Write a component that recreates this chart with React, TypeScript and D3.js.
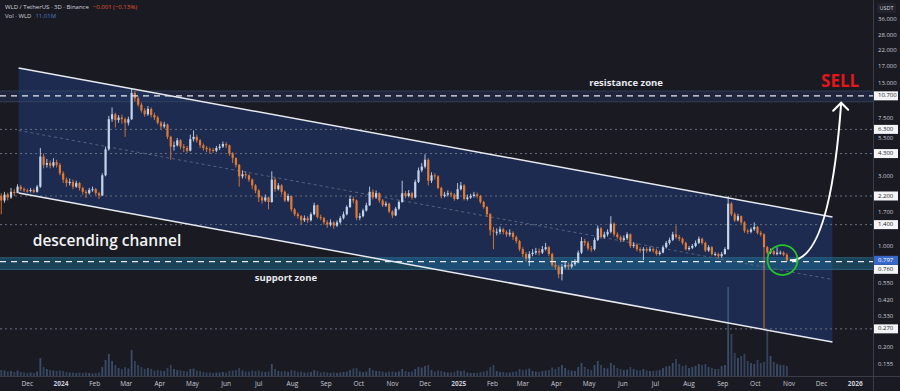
import React, { useEffect, useRef } from 'react';
import * as d3 from 'd3';

// WLD / TetherUS, 3D candles (Binance)
const firstCandle = '2023-11-07';
const intervalDays = 3;
const firstOpen = 2.2;

const closes = [
  2.05, 2.25, 2.15, 2.35, 2.30, 2.55, 2.45, 2.40, 2.38, 2.42,
  2.35, 2.55, 4.10, 3.60, 3.70, 3.55, 3.75, 3.60, 3.15, 2.85,
  2.70, 2.75, 2.55, 2.70, 2.50, 2.35, 2.30, 2.42, 2.45, 2.30,
  2.22, 3.05, 4.60, 7.40, 8.00, 7.30, 7.60, 7.40, 7.00, 7.40,
  11.20, 10.30, 9.30, 8.50, 8.00, 8.70, 7.90, 7.60, 7.00, 6.60,
  6.80, 5.60, 4.80, 4.90, 5.30, 4.80, 4.70, 4.50, 5.40, 5.60,
  5.30, 4.90, 4.70, 4.60, 4.55, 4.50, 4.70, 4.80, 5.00, 4.90,
  4.30, 4.00, 3.60, 3.00, 3.10, 3.05, 2.85, 2.60, 2.40, 2.15,
  2.05, 2.15, 2.00, 2.85, 2.45, 2.60, 2.35, 2.05, 2.20, 1.78,
  1.65, 1.60, 1.50, 1.55, 1.50, 1.65, 1.90, 1.58, 1.55, 1.45,
  1.40, 1.45, 1.38, 1.45, 1.55, 1.65, 1.85, 2.10, 2.05, 1.56,
  1.60, 1.75, 1.90, 2.35, 2.15, 2.30, 2.05, 1.90, 1.95, 1.72,
  1.62, 1.80, 2.00, 2.30, 2.20, 2.30, 2.15, 2.75, 3.30, 3.50,
  3.90, 2.80, 3.05, 3.00, 2.50, 2.20, 2.25, 2.30, 2.25, 2.10,
  2.45, 2.60, 2.10, 2.15, 2.20, 2.25, 2.20, 2.00, 1.85, 1.65,
  1.28, 1.25, 1.25, 1.30, 1.25, 1.20, 1.23, 1.15, 1.08, 0.95,
  0.88, 0.82, 0.88, 0.90, 0.92, 0.90, 0.95, 0.98, 0.88, 0.74,
  0.72, 0.64, 0.72, 0.74, 0.72, 0.75, 0.77, 0.90, 1.08, 1.05,
  0.96, 0.95, 1.10, 1.32, 1.15, 1.20, 1.25, 1.42, 1.20, 1.15,
  1.10, 1.13, 1.20, 1.00, 1.02, 0.95, 0.93, 0.95, 0.93, 0.95,
  0.93, 0.88, 0.90, 0.98, 1.05, 1.10, 1.20, 1.15, 1.12, 1.05,
  0.95, 0.97, 1.00, 1.05, 1.12, 1.05, 0.93, 0.98, 0.88, 0.88,
  0.85, 0.88, 0.95, 1.95, 1.65, 1.50, 1.60, 1.45, 1.27, 1.25,
  1.30, 1.35, 1.23, 1.20, 0.98, 0.90, 0.92, 0.88, 0.90, 0.90,
  0.87, 0.797,
];

const highs = [
  2.30, 2.35, 2.32, 2.50, 2.45, 2.65, 2.62, 2.52, 2.47, 2.50,
  2.48, 2.62, 4.70, 4.30, 3.95, 3.85, 4.00, 3.90, 3.70, 3.25,
  2.95, 2.90, 2.85, 2.80, 2.75, 2.55, 2.42, 2.50, 2.55, 2.50,
  2.35, 3.15, 4.80, 7.80, 8.90, 8.20, 7.90, 7.95, 7.60, 7.70,
  12.10, 11.60, 10.60, 9.60, 8.80, 9.10, 8.90, 8.20, 7.80, 7.20,
  7.10, 6.90, 5.70, 5.20, 5.50, 5.40, 5.00, 4.85, 5.80, 6.20,
  5.80, 5.40, 5.05, 4.85, 4.75, 4.70, 4.85, 5.00, 5.20, 5.15,
  4.95, 4.40, 4.05, 3.65, 3.30, 3.25, 3.10, 2.90, 2.65, 2.45,
  2.20, 2.25, 2.18, 3.25, 2.95, 2.70, 2.65, 2.40, 2.28, 2.22,
  1.82, 1.70, 1.63, 1.62, 1.60, 1.70, 1.98, 1.92, 1.64, 1.58,
  1.50, 1.52, 1.48, 1.50, 1.60, 1.72, 1.90, 2.22, 2.18, 2.08,
  1.68, 1.80, 1.98, 2.55, 2.45, 2.40, 2.33, 2.10, 2.02, 1.98,
  1.76, 1.85, 2.05, 2.80, 2.38, 2.42, 2.35, 2.85, 3.45, 3.70,
  4.25, 4.00, 3.20, 3.15, 3.05, 2.55, 2.35, 2.40, 2.36, 2.30,
  2.70, 2.75, 2.65, 2.25, 2.28, 2.35, 2.32, 2.24, 2.04, 1.88,
  1.68, 1.35, 1.32, 1.36, 1.33, 1.28, 1.30, 1.26, 1.18, 1.10,
  0.98, 0.91, 0.92, 0.95, 0.97, 0.96, 1.00, 1.05, 1.00, 0.90,
  0.78, 0.74, 0.75, 0.78, 0.77, 0.79, 0.81, 0.93, 1.15, 1.12,
  1.08, 1.00, 1.14, 1.38, 1.35, 1.25, 1.30, 1.60, 1.45, 1.24,
  1.18, 1.18, 1.24, 1.22, 1.06, 1.04, 0.98, 0.98, 0.98, 0.99,
  0.98, 0.96, 0.93, 1.01, 1.08, 1.14, 1.25, 1.38, 1.19, 1.14,
  1.07, 1.00, 1.03, 1.09, 1.16, 1.14, 1.07, 1.01, 1.00, 0.91,
  0.90, 0.91, 0.98, 2.20, 2.00, 1.70, 1.66, 1.62, 1.48, 1.31,
  1.34, 1.45, 1.37, 1.27, 1.22, 1.00, 0.96, 0.94, 0.98, 0.93,
  0.92, 0.89,
];

const lows = [
  1.65, 1.98, 2.05, 2.10, 2.20, 2.33, 2.38, 2.34, 2.32, 2.33,
  2.30, 2.32, 2.50, 3.40, 3.45, 3.40, 3.45, 3.45, 3.05, 2.70,
  2.55, 2.60, 2.45, 2.50, 2.40, 2.25, 2.13, 2.25, 2.35, 2.22,
  2.10, 2.20, 3.00, 4.50, 7.10, 6.50, 7.00, 6.90, 5.60, 6.70,
  7.30, 9.80, 9.00, 8.20, 7.70, 7.80, 7.60, 7.30, 6.80, 6.30,
  6.40, 5.40, 3.90, 4.50, 4.80, 4.60, 4.40, 4.35, 4.45, 5.20,
  5.10, 4.70, 4.50, 4.40, 4.30, 4.35, 4.40, 4.55, 4.70, 4.70,
  4.15, 3.70, 3.45, 2.55, 2.90, 2.90, 2.75, 2.45, 2.30, 2.00,
  1.95, 2.00, 1.78, 1.98, 2.35, 2.40, 2.25, 2.00, 2.00, 1.72,
  1.60, 1.54, 1.40, 1.46, 1.44, 1.47, 1.62, 1.54, 1.50, 1.40,
  1.33, 1.36, 1.31, 1.35, 1.42, 1.52, 1.62, 1.82, 1.96, 1.50,
  1.50, 1.57, 1.72, 1.88, 2.08, 2.10, 1.98, 1.85, 1.85, 1.68,
  1.55, 1.60, 1.76, 1.98, 2.12, 2.15, 2.08, 2.12, 2.70, 3.20,
  3.40, 2.60, 2.70, 2.85, 2.45, 2.12, 2.15, 2.18, 2.16, 2.04,
  2.08, 2.40, 2.05, 2.05, 2.10, 2.15, 2.12, 1.95, 1.80, 1.58,
  1.18, 0.95, 1.18, 1.20, 1.20, 1.15, 1.16, 1.10, 1.04, 0.92,
  0.84, 0.78, 0.73, 0.85, 0.87, 0.86, 0.88, 0.93, 0.85, 0.72,
  0.69, 0.60, 0.58, 0.70, 0.69, 0.70, 0.73, 0.76, 0.88, 1.00,
  0.93, 0.91, 0.93, 1.08, 1.12, 1.12, 1.16, 1.22, 1.16, 1.12,
  1.06, 1.07, 1.10, 0.97, 0.97, 0.92, 0.90, 0.80, 0.90, 0.91,
  0.90, 0.86, 0.86, 0.89, 0.96, 1.02, 1.08, 1.12, 1.08, 1.02,
  0.93, 0.93, 0.95, 0.98, 1.03, 1.02, 0.91, 0.91, 0.86, 0.85,
  0.82, 0.83, 0.87, 0.94, 1.60, 1.46, 1.47, 1.41, 1.23, 1.21,
  1.22, 1.27, 1.20, 1.16, 0.27, 0.87, 0.88, 0.86, 0.86, 0.87,
  0.85, 0.79,
];

// volume, millions of WLD
const volumes = [
  60, 55, 45, 50, 40, 55, 40, 35, 30, 35, 30, 45,
  180, 90, 70, 60, 55, 50,
  55, 50, 40, 35, 35, 30, 35, 30, 35, 30, 25, 30, 35,
  90, 160, 220, 150, 110, 80, 70, 90, 75, 260,
  150, 110, 90, 70, 80, 70, 55, 60, 55, 50, 80, 110,
  70, 60, 55, 50, 45, 70, 75, 55, 50, 40, 35, 35, 30,
  35, 35, 40, 35, 50, 55, 60, 80, 55, 45, 45, 55, 50, 55, 45, 40, 45,
  120, 70, 50, 45, 50, 40, 60, 55, 40, 45, 35, 35, 40, 60, 50, 35, 40, 35,
  30, 35, 30, 35, 40, 45, 60, 75, 80, 45, 40, 45, 80, 60, 50, 50, 45, 35, 45, 45, 40, 45, 70, 50, 40, 45,
  70, 90, 85, 100, 110, 60, 45, 55, 50, 40, 35, 35, 40, 55, 50, 55, 35, 30, 30, 30,
  40, 45, 55, 90, 110, 50, 40, 40, 35, 35, 40, 45, 70, 60, 65, 75, 50, 45, 40, 50, 55, 60, 85, 70, 90, 110, 80, 60, 55, 50,
  90, 130, 90, 70, 60, 110, 150, 110, 80, 75, 130, 110, 80, 70, 60, 65, 90, 70, 60, 55, 70, 55, 50, 50,
  55, 60, 80, 95, 100, 130, 170, 120, 100, 110, 80, 90, 100, 120, 110, 120, 90, 80, 70, 70, 100, 110,
  890, 420, 230, 180, 200, 220, 150, 130, 120, 160, 130, 140, 450, 200, 140, 120, 110, 110, 100,
];

const priceTicks = [36, 28, 22, 17, 13, 7.5, 5.5, 3, 1.7, 1, 0.55, 0.42, 0.33, 0.2, 0.155];
const levelTicks = [10.7, 6.3, 4.3, 2.2, 1.4, 0.76, 0.27];
const dottedLevels = [6.3, 4.3, 2.2, 1.4, 0.27];
const lastPrice = 0.797;

const resistanceZone = [9.75, 10.7, 11.55];
const supportZone = [0.69, 0.78, 0.83];
const channelDates = ['2023-11-23', '2025-12-11'];
const channelUpper = [16.6, 1.58];
const channelLower = [2.31, 0.219];

const UP = '#c3d4ec';
const DOWN = '#e27a35';
const BG = '#1a1a22';
const FONT = '"Open Sans", "Noto Sans", sans-serif';

const W = 900;
const H = 391;
const plotRight = 873;
const plotBottom = 376;

const App = () => {
  const svgRef = useRef(null);

  useEffect(() => {
    document.body.style.margin = '0';
    document.body.style.background = BG;
    const svg = d3.select(svgRef.current);
    svg.selectAll('*').remove();

    const day = 24 * 3600 * 1000;
    const t0 = new Date(firstCandle + 'T00:00:00Z').getTime();
    const candles = closes.map((c, i) => {
      const o = i === 0 ? firstOpen : closes[i - 1];
      return { date: new Date(t0 + i * intervalDays * day), o, c, h: highs[i], l: lows[i], v: volumes[i] };
    });
    const dt = (s) => new Date(s + 'T00:00:00Z');

    const x = d3.scaleUtc()
      .domain([dt('2024-01-01'), dt('2026-01-01')])
      .range([61, 855.3]);
    const y = d3.scaleLog().domain([36, 0.155]).range([19, 364]);
    const vy = d3.scaleLinear().domain([0, 900]).range([0, 90]);

    svg.append('rect').attr('width', W).attr('height', H).attr('fill', BG);

    // channel fill
    const cx0 = x(dt(channelDates[0]));
    const cx1 = x(dt(channelDates[1]));
    svg.append('path')
      .attr('d', `M${cx0},${y(channelUpper[0])}L${cx1},${y(channelUpper[1])}L${cx1},${y(channelLower[1])}L${cx0},${y(channelLower[0])}Z`)
      .attr('fill', '#1c2b4f');

    // zones
    const zone = (z, fill, edge) => {
      svg.append('rect')
        .attr('x', 0).attr('width', plotRight)
        .attr('y', y(z[2])).attr('height', y(z[0]) - y(z[2]))
        .attr('fill', fill);
      [z[0], z[2]].forEach(v => {
        svg.append('line').attr('x1', 0).attr('x2', plotRight)
          .attr('y1', y(v)).attr('y2', y(v))
          .attr('stroke', edge).attr('stroke-width', 0.8);
      });
    };
    zone(resistanceZone, 'rgba(40,60,110,0.35)', '#3a4662');
    zone(supportZone, 'rgba(30,135,175,0.38)', '#2f6a86');

    // dotted levels
    svg.append('g').selectAll('line').data(dottedLevels).join('line')
      .attr('x1', 0).attr('x2', plotRight)
      .attr('y1', d => y(d)).attr('y2', d => y(d))
      .attr('stroke', '#6a6e80').attr('stroke-width', 1)
      .attr('stroke-dasharray', '2,3');

    // channel midline
    svg.append('line')
      .attr('x1', cx0).attr('x2', cx1)
      .attr('y1', (y(channelUpper[0]) + y(channelLower[0])) / 2)
      .attr('y2', (y(channelUpper[1]) + y(channelLower[1])) / 2)
      .attr('stroke', '#56627e').attr('stroke-width', 1)
      .attr('stroke-dasharray', '3,3');

    // volume
    svg.append('g').selectAll('rect').data(candles).join('rect')
      .attr('x', d => x(d.date) - 0.9)
      .attr('width', 1.8)
      .attr('y', d => plotBottom - vy(d.v))
      .attr('height', d => vy(d.v))
      .attr('fill', d => (d.c >= d.o ? '#4a6288' : '#3f5576'))
      .attr('opacity', 0.7);

    // candles
    const cg = svg.append('g');
    cg.selectAll('line').data(candles).join('line')
      .attr('x1', d => x(d.date)).attr('x2', d => x(d.date))
      .attr('y1', d => y(d.h)).attr('y2', d => y(d.l))
      .attr('stroke', d => (d.c >= d.o ? UP : DOWN))
      .attr('stroke-width', 0.9);
    cg.selectAll('rect').data(candles).join('rect')
      .attr('x', d => x(d.date) - 1.1)
      .attr('width', 2.2)
      .attr('y', d => y(Math.max(d.o, d.c)))
      .attr('height', d => Math.max(1, Math.abs(y(d.o) - y(d.c))))
      .attr('fill', d => (d.c >= d.o ? UP : DOWN));

    // channel borders
    [channelUpper, channelLower].forEach(p => {
      svg.append('line')
        .attr('x1', cx0).attr('x2', cx1)
        .attr('y1', y(p[0])).attr('y2', y(p[1]))
        .attr('stroke', '#e8eaf0').attr('stroke-width', 1.5);
    });

    // zone dashed lines
    [resistanceZone[1], supportZone[1]].forEach(v => {
      svg.append('line').attr('x1', 0).attr('x2', plotRight)
        .attr('y1', y(v)).attr('y2', y(v))
        .attr('stroke', '#e6e8ee').attr('stroke-width', 1.2)
        .attr('stroke-dasharray', '6,5');
    });

    // annotation texts
    svg.append('text')
      .attr('x', x(dt('2025-06-04'))).attr('y', y(13.1))
      .attr('text-anchor', 'middle').attr('dominant-baseline', 'middle')
      .attr('fill', '#e8eaf0').style('font-family', FONT)
      .style('font-size', '9.5px').style('font-weight', 700)
      .text('resistance zone');
    svg.append('text')
      .attr('x', x(dt('2024-07-26'))).attr('y', y(0.594))
      .attr('text-anchor', 'middle').attr('dominant-baseline', 'middle')
      .attr('fill', '#e8eaf0').style('font-family', FONT)
      .style('font-size', '9.5px').style('font-weight', 700)
      .text('support zone');
    svg.append('text')
      .attr('x', x(dt('2023-12-06'))).attr('y', y(1.0))
      .attr('fill', '#f2f3f6').style('font-family', FONT)
      .style('font-size', '15.5px').style('font-weight', 600)
      .text('descending channel');
    svg.append('text')
      .attr('x', x(dt('2025-12-18'))).attr('y', y(12.3))
      .attr('text-anchor', 'middle')
      .attr('fill', '#e3161c').style('font-family', FONT)
      .style('font-size', '17px').style('font-weight', 700)
      .text('SELL');

    // projected move arrow
    const last = candles[candles.length - 1];
    const sx = x(last.date) + 3;
    const sy = y(last.c);
    const ex = x(dt('2025-12-19'));
    const ey = y(9.6);
    svg.append('path')
      .attr('d', `M${sx},${sy}C${sx + 32},${sy + 2} ${ex - 6},${ey + 84} ${ex},${ey}`)
      .attr('fill', 'none').attr('stroke', '#ffffff').attr('stroke-width', 2);
    svg.append('path')
      .attr('d', `M${ex - 8},${ey + 8}L${ex},${ey}L${ex + 7},${ey + 7}`)
      .attr('fill', 'none').attr('stroke', '#ffffff').attr('stroke-width', 2)
      .attr('stroke-linecap', 'round');

    // green circle
    svg.append('circle')
      .attr('cx', x(dt('2025-10-26'))).attr('cy', y(0.8)).attr('r', 15)
      .attr('fill', 'none').attr('stroke', '#25c42c').attr('stroke-width', 1.8);

    // right axis
    svg.append('rect').attr('x', plotRight).attr('y', 0).attr('width', W - plotRight).attr('height', H).attr('fill', BG);
    svg.append('line').attr('x1', plotRight + 0.5).attr('x2', plotRight + 0.5).attr('y1', 0).attr('y2', H)
      .attr('stroke', '#3a3d48');
    svg.append('g').selectAll('text').data(priceTicks).join('text')
      .attr('x', 878).attr('y', d => y(d))
      .attr('dominant-baseline', 'middle')
      .attr('fill', '#c9ccd6').style('font-family', FONT).style('font-size', '6px')
      .text(d => d3.format('.3f')(d));

    const levelY = (v) => (v === 0.76 ? y(v) + 6 : y(v));
    const lg = svg.append('g');
    lg.selectAll('rect').data(levelTicks).join('rect')
      .attr('x', plotRight + 1).attr('y', d => levelY(d) - 4.5)
      .attr('width', W - plotRight - 3).attr('height', 9)
      .attr('fill', '#f4f5f8');
    lg.selectAll('text').data(levelTicks).join('text')
      .attr('x', 878).attr('y', d => levelY(d))
      .attr('dominant-baseline', 'middle')
      .attr('fill', '#1a1a22').style('font-family', FONT).style('font-size', '6px')
      .text(d => d3.format('.3f')(d));
    svg.append('rect')
      .attr('x', plotRight + 1).attr('y', y(lastPrice) - 4.5)
      .attr('width', W - plotRight - 3).attr('height', 9)
      .attr('fill', '#3767c8');
    svg.append('text')
      .attr('x', 878).attr('y', y(lastPrice)).attr('dominant-baseline', 'middle')
      .attr('fill', '#ffffff').style('font-family', FONT).style('font-size', '6px')
      .text(d3.format('.3f')(lastPrice));

    svg.append('rect').attr('x', 877).attr('y', 3).attr('width', 19).attr('height', 10)
      .attr('fill', '#22232c').attr('rx', 1.5);
    svg.append('text').attr('x', 886.5).attr('y', 8.5)
      .attr('text-anchor', 'middle').attr('dominant-baseline', 'middle')
      .attr('fill', '#d1d4dc').style('font-family', FONT).style('font-size', '5.5px')
      .text('USDT');

    // time axis
    svg.append('rect').attr('x', 0).attr('y', plotBottom).attr('width', plotRight).attr('height', H - plotBottom)
      .attr('fill', BG);
    svg.append('line').attr('x1', 0).attr('x2', W).attr('y1', plotBottom + 0.5).attr('y2', plotBottom + 0.5)
      .attr('stroke', '#3a3d48');
    const months = d3.utcMonth.range(dt('2023-12-01'), dt('2026-01-02'));
    svg.append('g').selectAll('text').data(months).join('text')
      .attr('x', d => x(d)).attr('y', 384)
      .attr('text-anchor', 'middle').attr('dominant-baseline', 'middle')
      .attr('fill', '#c9ccd6').style('font-family', FONT).style('font-size', '6.5px')
      .style('font-weight', d => (d.getUTCMonth() === 0 ? 700 : 400))
      .text(d => (d.getUTCMonth() === 0 ? d3.utcFormat('%Y')(d) : d3.utcFormat('%b')(d)));

    // header legend
    const h1 = svg.append('text').attr('x', 5).attr('y', 9)
      .style('font-family', FONT).style('font-size', '6px');
    h1.append('tspan').attr('fill', '#d1d4dc').text('WLD / TetherUS · 3D · Binance');
    h1.append('tspan').attr('fill', '#e4572e').attr('dx', 4).text('−0.001 (−0.13%)');
    const h2 = svg.append('text').attr('x', 5).attr('y', 18)
      .style('font-family', FONT).style('font-size', '6px');
    h2.append('tspan').attr('fill', '#d1d4dc').text('Vol · WLD');
    h2.append('tspan').attr('fill', '#4f7cc4').attr('dx', 4).text('11.01M');
  }, []);

  return <svg ref={svgRef} width={W} height={H} style={{ display: 'block' }}></svg>;
};

export default App;
